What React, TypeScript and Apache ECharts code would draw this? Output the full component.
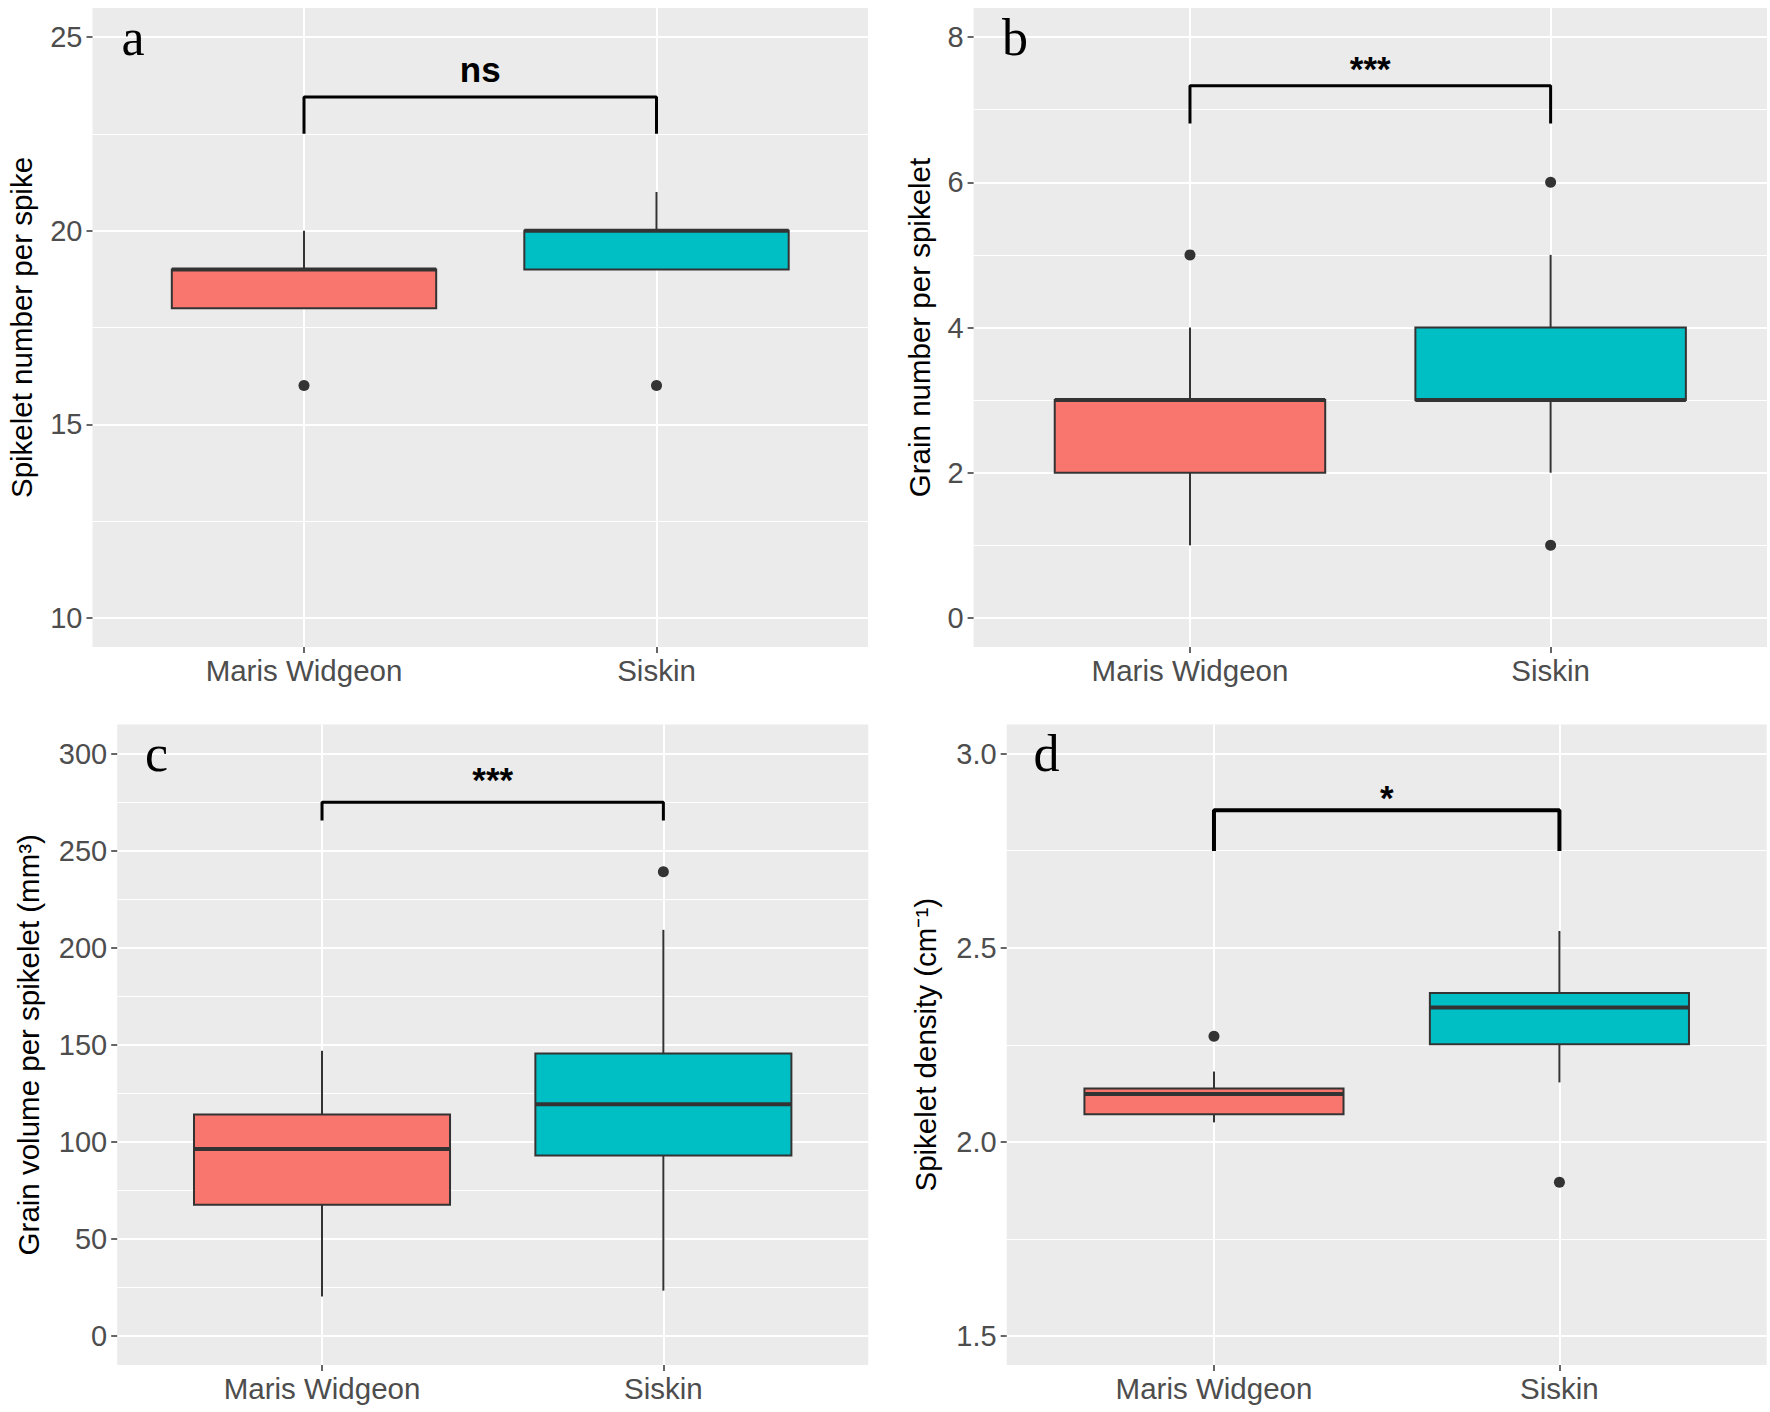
import React, { useEffect, useRef } from 'react';
import * as echarts from 'echarts';

// ---------- data ----------
const categories = ['Maris Widgeon', 'Siskin'];
const boxColors = ['#F8766D', '#00BFC4'];

// each box: [lower whisker, Q1, median, Q3, upper whisker]
const spikeletBoxes = [
  [18, 18, 19, 19, 20],
  [19, 19, 20, 20, 21],
];
const spikeletOutliers = [[1, 16], [2, 16]];

const grainNumberBoxes = [
  [1, 2, 3, 3, 4],
  [2, 3, 3, 4, 5],
];
const grainNumberOutliers = [[1, 5], [2, 6], [2, 1]];

const grainVolumeBoxes = [
  [20.3, 67.6, 96.3, 114.0, 146.9],
  [23.3, 93.0, 119.4, 145.5, 209.2],
];
const grainVolumeOutliers = [[2, 239.1]];

const densityBoxes = [
  [2.05, 2.071, 2.123, 2.137, 2.181],
  [2.153, 2.251, 2.346, 2.383, 2.543],
];
const densityOutliers = [[1, 2.272], [2, 1.896]];

const yLimits = [
  [10, 25],
  [0, 8],
  [0, 300],
  [1.5, 3.0],
];
const majorTicks = [
  [10, 15, 20, 25],
  [0, 2, 4, 6, 8],
  [0, 50, 100, 150, 200, 250, 300],
  [1.5, 2.0, 2.5, 3.0],
];
const minorTicks = [
  [12.5, 17.5, 22.5],
  [1, 3, 5, 7],
  [25, 75, 125, 175, 225, 275],
  [1.75, 2.25, 2.75],
];
const tickDecimals = [0, 0, 0, 1];

const yTitles = [
  'Spikelet number per spike',
  'Grain number per spikelet',
  'Grain volume per spikelet (mm³)',
  'Spikelet density (cm⁻¹)',
];
const panelLetters = ['a', 'b', 'c', 'd'];

const bracketTop = [23.45, 7.33, 274.9, 2.854];
const bracketBottom = [22.5, 6.81, 265.6, 2.749];
const sigLabels = ['ns', '***', '***', '*'];
const sigLabelY = [24.17, 7.56, 286.5, 2.887];

// ---------- layout / style ----------
const FONT = '"Liberation Sans", Arial, Helvetica, sans-serif';
const SERIF = '"Liberation Serif", "Times New Roman", serif';
const gridBoxes = [
  { left: 92.5, top: 8, width: 775.5, height: 639 },
  { left: 973.6, top: 8, width: 793.4, height: 639 },
  { left: 117.2, top: 724.5, width: 751, height: 640.5 },
  { left: 1006.7, top: 724.5, width: 760, height: 640.5 },
];
const nameGaps = [56, 39, 74, 66];
const bracketWidths = [3, 3, 3, 4];
const BOX_HALF = 0.375;
const LETTER_X = 0.515;
const DARK = '#333333';

export default function App() {
  const ref = useRef<HTMLDivElement>(null);

  useEffect(() => {
    const chart = echarts.init(ref.current!, null, { renderer: 'svg' });

    const panels = [
      { boxes: spikeletBoxes, outliers: spikeletOutliers },
      { boxes: grainNumberBoxes, outliers: grainNumberOutliers },
      { boxes: grainVolumeBoxes, outliers: grainVolumeOutliers },
      { boxes: densityBoxes, outliers: densityOutliers },
    ];

    const grid: any[] = [];
    const xAxis: any[] = [];
    const yAxis: any[] = [];
    const series: any[] = [];

    panels.forEach((p, i) => {
      const [lo, hi] = yLimits[i];
      const pad = (hi - lo) * 0.05;
      grid.push({
        ...gridBoxes[i],
        show: true,
        backgroundColor: '#EBEBEB',
        borderWidth: 0,
        containLabel: false,
        outerBoundsMode: 'none',
      });
      xAxis.push({
        type: 'value',
        gridIndex: i,
        position: 'bottom',
        min: 0.4,
        max: 2.6,
        axisLine: { show: false, onZero: false },
        axisTick: {
          show: true,
          customValues: [1, 2],
          length: 6,
          lineStyle: { color: DARK, width: 1.5 },
        },
        axisLabel: {
          customValues: [1, 2],
          formatter: (v: number) => categories[Math.round(v) - 1] ?? '',
          fontFamily: FONT,
          fontSize: 29.5,
          color: '#4D4D4D',
          margin: 8,
        },
        splitLine: { show: true, lineStyle: { color: '#FFFFFF', width: 2 } },
      });
      // major y axis
      yAxis.push({
        type: 'value',
        gridIndex: i,
        min: lo - pad,
        max: hi + pad,
        axisLine: { show: false, onZero: false },
        axisTick: {
          show: true,
          customValues: majorTicks[i],
          length: 6,
          lineStyle: { color: DARK, width: 1.5 },
        },
        axisLabel: {
          customValues: majorTicks[i],
          formatter: (v: number) => v.toFixed(tickDecimals[i]),
          fontFamily: FONT,
          fontSize: 29,
          color: '#4D4D4D',
          margin: 10,
        },
        splitLine: { show: true, lineStyle: { color: '#FFFFFF', width: 2 } },
        name: yTitles[i],
        nameLocation: 'middle',
        nameRotate: 90,
        nameGap: nameGaps[i],
        nameTextStyle: { fontFamily: FONT, fontSize: 29.5, color: '#000000' },
      });
      // minor grid axis
      yAxis.push({
        type: 'value',
        gridIndex: i,
        position: 'left',
        min: lo - pad,
        max: hi + pad,
        axisLine: { show: false, onZero: false },
        axisTick: { show: false, customValues: minorTicks[i] },
        axisLabel: { show: false, customValues: minorTicks[i] },
        splitLine: { show: true, lineStyle: { color: '#FFFFFF', width: 1 } },
      });

      const yMain = i * 2;

      series.push({
        type: 'custom',
        xAxisIndex: i,
        yAxisIndex: yMain,
        z: 3,
        data: p.boxes.map((b, k) => [k + 1, ...b]),
        encode: { x: 0, y: [1, 2, 3, 4, 5] },
        renderItem: (params: any, api: any) => {
          const x = api.value(0);
          const vLo = api.value(1);
          const q1 = api.value(2);
          const med = api.value(3);
          const q3 = api.value(4);
          const vHi = api.value(5);
          const c = api.coord([x, med]);
          const l = api.coord([x - BOX_HALF, q3]);
          const r = api.coord([x + BOX_HALF, q1]);
          const yLo = api.coord([x, vLo])[1];
          const yHi = api.coord([x, vHi])[1];
          return {
            type: 'group',
            children: [
              { type: 'line', shape: { x1: c[0], y1: yHi, x2: c[0], y2: l[1] }, style: { stroke: DARK, lineWidth: 2 } },
              { type: 'line', shape: { x1: c[0], y1: r[1], x2: c[0], y2: yLo }, style: { stroke: DARK, lineWidth: 2 } },
              {
                type: 'rect',
                shape: { x: l[0], y: l[1], width: r[0] - l[0], height: r[1] - l[1] },
                style: { fill: boxColors[params.dataIndex], stroke: DARK, lineWidth: 2 },
              },
              { type: 'line', shape: { x1: l[0], y1: c[1], x2: r[0], y2: c[1] }, style: { stroke: DARK, lineWidth: 4 } },
            ],
          };
        },
      });

      series.push({
        type: 'scatter',
        xAxisIndex: i,
        yAxisIndex: yMain,
        z: 4,
        symbol: 'circle',
        symbolSize: 11,
        itemStyle: { color: DARK, opacity: 1 },
        data: p.outliers,
      });

      series.push({
        type: 'line',
        xAxisIndex: i,
        yAxisIndex: yMain,
        z: 5,
        symbol: 'none',
        lineStyle: { color: '#000000', width: bracketWidths[i] },
        data: [
          [1, bracketBottom[i]],
          [1, bracketTop[i]],
          [2, bracketTop[i]],
          [2, bracketBottom[i]],
        ],
      });

      series.push({
        type: 'custom',
        xAxisIndex: i,
        yAxisIndex: yMain,
        z: 6,
        data: [[1.5, sigLabelY[i], 0], [LETTER_X, hi, 1]],
        encode: { x: 0, y: 1 },
        renderItem: (params: any, api: any) => {
          const pt = api.coord([api.value(0), api.value(1)]);
          const isLetter = api.value(2) === 1;
          return {
            type: 'text',
            x: pt[0],
            y: pt[1],
            style: isLetter
              ? {
                  text: panelLetters[i],
                  fontFamily: SERIF,
                  fontSize: 52,
                  fill: '#000000',
                  align: 'center',
                  verticalAlign: 'middle',
                }
              : {
                  text: sigLabels[i],
                  fontFamily: FONT,
                  fontWeight: 'bold',
                  fontSize: 35,
                  fill: '#000000',
                  align: 'center',
                  verticalAlign: 'middle',
                },
          };
        },
      });
    });

    chart.setOption({
      animation: false,
      backgroundColor: '#FFFFFF',
      grid,
      xAxis,
      yAxis,
      series,
    });

    return () => chart.dispose();
  }, []);

  return (
    <div
      ref={ref}
      style={{ position: 'fixed', left: 0, top: 0, width: 1770, height: 1412 }}
    />
  );
}
